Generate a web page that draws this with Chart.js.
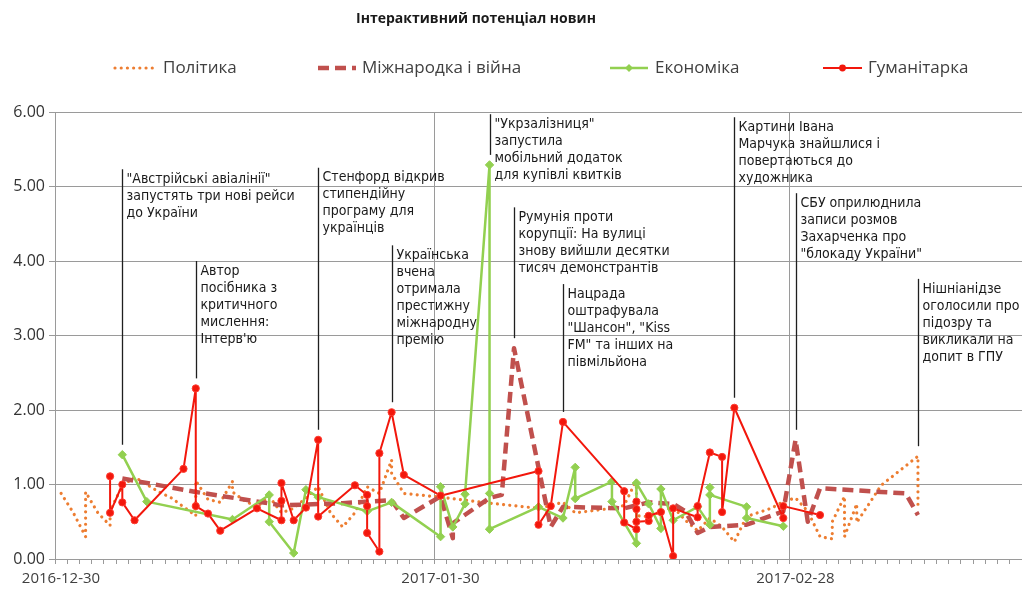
<!DOCTYPE html>
<html>
<head>
<meta charset="utf-8">
<script src="https://cdn.jsdelivr.net/npm/chart.js@4.4.1/dist/chart.umd.min.js"></script>
<style>
  html, body { margin: 0; padding: 0; background: #ffffff; }
  #wrap { width: 1022px; height: 589px; position: relative; }
</style>
</head>
<body>
<div id="wrap"><canvas id="c" width="1022" height="589"></canvas></div>
<script>
// ---------------- DATA ----------------
const chartSubtitle = 'Інтерактивний потенціал новин';
const seriesNames = ['Політика', 'Міжнародка і війна', 'Економіка', 'Гуманітарка'];
const axisStartDate = '2016-12-30';
const axisEndDate = '2017-03-19';
const xTickLabels = ['2016-12-30', '2017-01-30', '2017-02-28'];
const yTickValues = [0, 1, 2, 3, 4, 5, 6];

const politykaDates = ['2016-12-30','2016-12-31','2017-01-01','2017-01-01','2017-01-02','2017-01-03','2017-01-03','2017-01-04','2017-01-05','2017-01-06','2017-01-07','2017-01-08','2017-01-09','2017-01-10','2017-01-10','2017-01-11','2017-01-12','2017-01-13','2017-01-13','2017-01-14','2017-01-15','2017-01-16','2017-01-17','2017-01-18','2017-01-19','2017-01-20','2017-01-21','2017-01-22','2017-01-23','2017-01-24','2017-01-25','2017-01-26','2017-01-26','2017-01-27','2017-01-30','2017-02-03','2017-02-07','2017-02-09','2017-02-10','2017-02-13','2017-02-14','2017-02-15','2017-02-15','2017-02-16','2017-02-18','2017-02-19','2017-02-20','2017-02-21','2017-02-22','2017-02-23','2017-02-24','2017-02-26','2017-02-27','2017-02-28','2017-03-01','2017-03-02','2017-03-03','2017-03-03','2017-03-04','2017-03-04','2017-03-05','2017-03-05','2017-03-07','2017-03-10','2017-03-10'];
const politykaValues = [0.88,0.62,0.30,0.90,0.62,0.45,0.65,0.98,1.10,1.00,0.90,0.82,0.70,0.58,1.05,0.80,0.76,1.04,0.90,0.78,0.70,0.84,0.62,0.68,0.82,0.97,0.62,0.43,0.62,0.97,0.88,1.33,1.15,0.88,0.83,0.75,0.68,0.76,0.62,0.68,0.72,1.06,0.58,0.57,0.70,0.52,0.38,0.55,0.43,0.23,0.57,0.68,0.77,0.82,0.64,0.30,0.27,0.50,0.84,0.30,0.74,0.49,0.99,1.38,0.66];

const mizhnarodkaDates = ['2017-01-04','2017-01-10','2017-01-17','2017-01-22','2017-01-26','2017-01-27','2017-01-30','2017-01-31','2017-01-31','2017-02-03','2017-02-04','2017-02-05','2017-02-08','2017-02-09','2017-02-14','2017-02-16','2017-02-18','2017-02-19','2017-02-20','2017-02-21','2017-02-24','2017-02-27','2017-02-28','2017-03-01','2017-03-02','2017-03-07','2017-03-09','2017-03-10'];
const mizhnarodkaValues = [1.08,0.90,0.72,0.75,0.79,0.55,0.84,0.28,0.48,0.82,0.86,2.83,0.43,0.70,0.68,0.76,0.74,0.64,0.35,0.43,0.46,0.64,1.60,0.50,0.95,0.90,0.88,0.59];

const ekonomikaDates = ['2017-01-04','2017-01-06','2017-01-13','2017-01-16','2017-01-16','2017-01-18','2017-01-19','2017-01-20','2017-01-24','2017-01-26','2017-01-30','2017-01-30','2017-01-31','2017-02-01','2017-02-01','2017-02-03','2017-02-03','2017-02-03','2017-02-07','2017-02-09','2017-02-10','2017-02-10','2017-02-13','2017-02-13','2017-02-15','2017-02-15','2017-02-16','2017-02-17','2017-02-17','2017-02-18','2017-02-20','2017-02-21','2017-02-21','2017-02-21','2017-02-24','2017-02-24','2017-02-27'];
const ekonomikaValues = [1.40,0.77,0.53,0.86,0.50,0.08,0.93,0.83,0.64,0.76,0.30,0.97,0.43,0.74,0.87,5.29,0.88,0.40,0.70,0.55,1.23,0.81,1.04,0.77,0.21,1.02,0.74,0.41,0.94,0.52,0.70,0.46,0.96,0.86,0.70,0.55,0.44];

const humanitarkaDates = ['2017-01-03','2017-01-03','2017-01-04','2017-01-04','2017-01-05','2017-01-09','2017-01-10','2017-01-10','2017-01-11','2017-01-12','2017-01-15','2017-01-17','2017-01-17','2017-01-17','2017-01-18','2017-01-19','2017-01-20','2017-01-20','2017-01-23','2017-01-24','2017-01-24','2017-01-24','2017-01-25','2017-01-25','2017-01-26','2017-01-27','2017-01-30','2017-02-07','2017-02-07','2017-02-08','2017-02-09','2017-02-14','2017-02-14','2017-02-15','2017-02-15','2017-02-15','2017-02-15','2017-02-16','2017-02-16','2017-02-17','2017-02-18','2017-02-18','2017-02-20','2017-02-20','2017-02-21','2017-02-22','2017-02-22','2017-02-23','2017-02-27','2017-02-27','2017-03-02'];
const humanitarkaValues = [1.11,0.62,1.00,0.76,0.52,1.21,2.29,0.71,0.61,0.38,0.68,0.52,0.78,1.02,0.52,0.69,1.60,0.57,0.99,0.86,0.71,0.35,0.10,1.42,1.97,1.13,0.85,1.18,0.46,0.71,1.84,0.91,0.49,0.40,0.77,0.67,0.50,0.51,0.58,0.63,0.04,0.68,0.56,0.71,1.43,1.37,0.63,2.03,0.55,0.71,0.59];

// callouts
const annDates = ['2017-01-04','2017-01-10','2017-01-20','2017-01-26','2017-02-03','2017-02-05','2017-02-09','2017-02-23','2017-02-28','2017-03-10'];
const annValues = [1.40, 2.29, 1.60, 1.97, 5.29, 2.83, 1.84, 2.03, 1.60, 1.38];
const annLabelTops = [5.19, 3.96, 5.21, 4.17, 5.93, 4.68, 3.65, 5.89, 4.87, 3.72];
const annTexts = [
  ['"Австрійські авіалінії"', 'запустять три нові рейси', 'до України'],
  ['Автор', 'посібника з', 'критичного', 'мислення:', "Інтерв'ю"],
  ['Стенфорд відкрив', 'стипендійну', 'програму для', 'українців'],
  ['Українська', 'вчена', 'отримала', 'престижну', 'міжнародну', 'премію'],
  ['"Укрзалізниця"', 'запустила', 'мобільний додаток', 'для купівлі квитків'],
  ['Румунія проти', 'корупції: На вулиці', 'знову вийшли десятки', 'тисяч демонстрантів'],
  ['Нацрада', 'оштрафувала', '"Шансон", "Kiss', 'FM" та інших на', 'півмільйона'],
  ['Картини Івана', 'Марчука знайшлися і', 'повертаються до', 'художника'],
  ['СБУ оприлюднила', 'записи розмов', 'Захарченка про', '"блокаду України"'],
  ['Нішніанідзе', 'оголосили про', 'підозру та', 'викликали на', 'допит в ГПУ']
];

// ---------------- HELPERS ----------------
function dayIndex(s) {
  const p = s.split('-').map(Number);
  const a = axisStartDate.split('-').map(Number);
  return Math.round((Date.UTC(p[0], p[1] - 1, p[2]) - Date.UTC(a[0], a[1] - 1, a[2])) / 86400000);
}
function dayToLabel(i) {
  const a = axisStartDate.split('-').map(Number);
  const d = new Date(Date.UTC(a[0], a[1] - 1, a[2]) + i * 86400000);
  const mm = String(d.getUTCMonth() + 1).padStart(2, '0');
  const dd = String(d.getUTCDate()).padStart(2, '0');
  return d.getUTCFullYear() + '-' + mm + '-' + dd;
}
// date points sit in the middle of their day slot (Excel date axis, between tick marks)
function toPoints(dates, values) {
  return dates.map((d, i) => ({ x: dayIndex(d) + 0.5, y: values[i] }));
}
const majorDays = xTickLabels.map(dayIndex);
const xMax = dayIndex(axisEndDate);

const COL_POL = '#ed7d31';
const COL_MIZ = '#c0504d';
const COL_EKO = '#92d050';
const COL_HUM = '#f2170c';
const GRID = '#9a9a9a';

const datasets = [
  {
    label: seriesNames[0], data: toPoints(politykaDates, politykaValues),
    borderColor: COL_POL, backgroundColor: COL_POL, borderWidth: 3.2,
    borderDash: [0.01, 6.2], borderCapStyle: 'round', pointRadius: 0, order: 4
  },
  {
    label: seriesNames[1], data: toPoints(mizhnarodkaDates, mizhnarodkaValues),
    borderColor: COL_MIZ, backgroundColor: COL_MIZ, borderWidth: 4.5,
    borderDash: [11, 6], borderCapStyle: 'butt', pointRadius: 0, order: 3
  },
  {
    label: seriesNames[2], data: toPoints(ekonomikaDates, ekonomikaValues),
    borderColor: COL_EKO, backgroundColor: COL_EKO, borderWidth: 2.5,
    pointStyle: 'rectRot', pointRadius: 4.2, pointBorderWidth: 1, pointBorderColor: COL_EKO, order: 2
  },
  {
    label: seriesNames[3], data: toPoints(humanitarkaDates, humanitarkaValues),
    borderColor: COL_HUM, backgroundColor: COL_HUM, borderWidth: 2,
    pointStyle: 'circle', pointRadius: 3.6, pointBorderWidth: 1, pointBorderColor: '#ff3b30', order: 1
  }
];
datasets.forEach(d => {
  d.showLine = true; d.tension = 0; d.pointHoverRadius = d.pointRadius;
  d.borderJoinStyle = 'round';
});

// ---------------- PLUGINS ----------------
const headerPlugin = {
  id: 'header',
  afterDraw(chart) {
    const ctx = chart.ctx;
    ctx.save();
    ctx.fillStyle = '#1a1a1a';
    ctx.font = 'bold 14px "Open Sans"';
    ctx.textAlign = 'center';
    ctx.textBaseline = 'middle';
    ctx.fillText(chartSubtitle, 476, 19);

    // legend
    const items = [
      { x0: 115, x1: 155, tx: 163 },
      { x0: 318, x1: 356, tx: 362 },
      { x0: 610, x1: 648, tx: 655 },
      { x0: 823, x1: 862, tx: 868 }
    ];
    const y = 68;
    items.forEach((it, i) => {
      const ds = datasets[i];
      ctx.save();
      ctx.strokeStyle = ds.borderColor;
      ctx.lineWidth = i === 1 ? 4.5 : (i === 0 ? 3.2 : ds.borderWidth);
      ctx.lineCap = ds.borderCapStyle || 'butt';
      ctx.setLineDash(ds.borderDash || []);
      ctx.beginPath();
      ctx.moveTo(it.x0, y);
      ctx.lineTo(it.x1, y);
      ctx.stroke();
      ctx.setLineDash([]);
      const mx = (it.x0 + it.x1) / 2;
      if (i === 2) {
        ctx.fillStyle = ds.backgroundColor;
        ctx.beginPath();
        ctx.moveTo(mx, y - 4); ctx.lineTo(mx + 4, y); ctx.lineTo(mx, y + 4); ctx.lineTo(mx - 4, y);
        ctx.closePath(); ctx.fill();
      } else if (i === 3) {
        ctx.fillStyle = ds.backgroundColor;
        ctx.beginPath(); ctx.arc(mx, y, 3.4, 0, Math.PI * 2); ctx.fill();
      }
      ctx.restore();
      ctx.fillStyle = '#404040';
      ctx.font = '17px "Open Sans"';
      ctx.textAlign = 'left';
      ctx.textBaseline = 'middle';
      ctx.fillText(ds.label, it.tx, y);
    });
    ctx.restore();
  }
};

const calloutPlugin = {
  id: 'callouts',
  afterDatasetsDraw(chart) {
    const ctx = chart.ctx;
    const xs = chart.scales.x, ys = chart.scales.y;
    ctx.save();
    annDates.forEach((d, i) => {
      const px = Math.round(xs.getPixelForValue(dayIndex(d) + 0.5)) + 0.5;
      const pyPoint = ys.getPixelForValue(annValues[i]);
      const pyTop = ys.getPixelForValue(annLabelTops[i]);
      ctx.strokeStyle = '#1f1f1f';
      ctx.lineWidth = 1.3;
      ctx.beginPath();
      ctx.moveTo(px, pyTop - 3);
      ctx.lineTo(px, pyPoint - 10);
      ctx.stroke();
      ctx.fillStyle = '#1a1a1a';
      ctx.font = '14px "DejaVu Sans Condensed"';
      ctx.textAlign = 'left';
      ctx.textBaseline = 'top';
      annTexts[i].forEach((line, k) => {
        ctx.fillText(line, px + 4, pyTop + k * 17);
      });
    });
    ctx.restore();
  }
};

// ---------------- CHART ----------------
new Chart(document.getElementById('c'), {
  type: 'scatter',
  data: { datasets },
  plugins: [headerPlugin, calloutPlugin],
  options: {
    responsive: false,
    animation: false,
    devicePixelRatio: 1,
    layout: { autoPadding: false, padding: { top: 112, left: 0, right: 0, bottom: 0 } },
    plugins: { legend: { display: false }, title: { display: false }, tooltip: { enabled: false } },
    scales: {
      x: {
        type: 'linear', min: 0, max: xMax,
        afterFit(s) { s.height = 30; s.paddingLeft = 0; s.paddingRight = 0; },
        afterBuildTicks(s) {
          const t = [];
          for (let i = 0; i <= xMax; i++) t.push({ value: i });
          s.ticks = t;
        },
        ticks: {
          autoSkip: false, maxRotation: 0, minRotation: 0,
          padding: 6, labelOffset: 6,
          color: '#404040', font: { family: 'Open Sans', size: 15 },
          callback: (v) => majorDays.includes(v) ? dayToLabel(v) : ''
        },
        grid: {
          drawOnChartArea: true, drawTicks: true, tickLength: 5,
          color: (c) => (c.tick && majorDays.includes(c.tick.value) && c.tick.value !== 0) ? GRID : 'rgba(0,0,0,0)',
          tickColor: GRID, lineWidth: 1
        },
        border: { display: true, color: GRID, width: 1 }
      },
      y: {
        type: 'linear', min: 0, max: 6,
        afterFit(s) { s.width = 55; s.paddingTop = 0; s.paddingBottom = 0; },
        afterBuildTicks(s) { s.ticks = yTickValues.map(v => ({ value: v })); },
        ticks: {
          padding: 4, color: '#333333', font: { family: 'Open Sans', size: 16 },
          callback: (v) => Number(v).toFixed(2)
        },
        grid: { color: GRID, tickLength: 6, lineWidth: 1 },
        border: { display: true, color: GRID, width: 1 }
      }
    }
  }
});
</script>
</body>
</html>
